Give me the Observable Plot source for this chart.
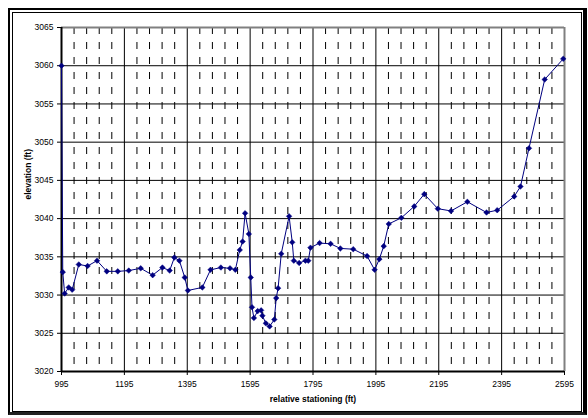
<!DOCTYPE html>
<html>
<head>
<meta charset="utf-8">
<script src="https://cdn.jsdelivr.net/npm/d3@7"></script>
<script src="https://cdn.jsdelivr.net/npm/@observablehq/plot@0.6"></script>
<style>
  html, body { margin: 0; padding: 0; background: white; }
  #wrap { position: relative; width: 588px; height: 418px; overflow: hidden; }
  #wrap svg { position: absolute; left: 0; top: 0; }
  .b { position: absolute; box-sizing: border-box; pointer-events: none; }
</style>
</head>
<body>
<div id="wrap">
  <div class="b" style="left:8px;top:8px;width:579px;height:407px;border-left:2px solid #000;border-top:2px solid #000;border-right:4px solid #000;border-bottom:3px solid #222;"></div>
  <div class="b" style="left:12px;top:12px;width:570px;height:400px;border:1px solid #000;"></div>
</div>
<script>
const stations = [995, 999, 1005, 1018, 1029, 1050, 1078, 1108, 1139, 1174,
  1209, 1247, 1285, 1316, 1339, 1354, 1370, 1387, 1397, 1443,
  1469, 1502, 1531, 1548, 1562, 1571, 1579, 1591, 1597, 1601,
  1607, 1619, 1630, 1634, 1645, 1657, 1672, 1678, 1684, 1694,
  1719, 1729, 1734, 1751, 1771, 1780, 1787, 1816, 1851, 1882,
  1923, 1967, 1991, 2006, 2020, 2036, 2076, 2117, 2149, 2192,
  2234, 2286, 2347, 2381, 2435, 2455, 2482, 2532, 2591];
const elevations = [3060, 3033.0, 3030.2, 3031.0, 3030.7, 3034.0, 3033.8, 3034.5, 3033.1, 3033.1,
  3033.2, 3033.5, 3032.6, 3033.6, 3033.2, 3034.9, 3034.5, 3032.3, 3030.6, 3031.0,
  3033.3, 3033.6, 3033.5, 3033.3, 3035.9, 3037.0, 3040.7, 3038.0, 3032.3, 3028.4,
  3027.0, 3027.9, 3028.0, 3027.3, 3026.3, 3025.9, 3026.8, 3029.6, 3030.9, 3035.4,
  3040.3, 3036.9, 3034.5, 3034.2, 3034.5, 3034.5, 3036.2, 3036.8, 3036.7, 3036.1,
  3036.0, 3035.1, 3033.3, 3034.7, 3036.4, 3039.3, 3040.1, 3041.6, 3043.2, 3041.3,
  3041.0, 3042.2, 3040.8, 3041.1, 3042.9, 3044.2, 3049.2, 3058.2, 3060.9];
const xTicks = [995, 1195, 1395, 1595, 1795, 1995, 2195, 2395, 2595];
const xMinor = [1035, 1075, 1115, 1155, 1235, 1275, 1315, 1355, 1435, 1475, 1515, 1555,
  1635, 1675, 1715, 1755, 1835, 1875, 1915, 1955, 2035, 2075, 2115, 2155,
  2235, 2275, 2315, 2355, 2435, 2475, 2515, 2555];
const yTicks = [3020, 3025, 3030, 3035, 3040, 3045, 3050, 3055, 3060, 3065];
const xTitle = "relative stationing (ft)";
const yTitle = "elevation (ft)";

const data = stations.map((s, i) => ({x: s, y: elevations[i]}));
const navy = "#000080";

const chart = Plot.plot({
  width: 588,
  height: 418,
  marginLeft: 61,
  marginRight: 24,
  marginTop: 27,
  marginBottom: 47,
  style: {fontFamily: "'Liberation Sans', Arial, sans-serif", fontSize: "8.5px", background: "transparent", color: "#000"},
  x: {domain: [995, 2595], ticks: xTicks, label: null},
  y: {domain: [3020, 3065], ticks: yTicks, label: null},
  marks: [
    Plot.ruleX(xMinor, {stroke: "#000", strokeWidth: 1, strokeDasharray: "7,8"}),
    Plot.ruleY(yTicks.slice(1, -1), {stroke: "#000", strokeWidth: 1}),
    Plot.ruleX(xTicks.slice(1, -1), {stroke: "#000", strokeWidth: 1}),
    Plot.ruleY([3065], {stroke: "#808080", strokeWidth: 2}),
    Plot.ruleX([2595], {stroke: "#808080", strokeWidth: 2}),
    Plot.ruleX([995], {stroke: "#000", strokeWidth: 2}),
    Plot.ruleY([3020], {stroke: "#000", strokeWidth: 2}),
    Plot.axisY({ticks: yTicks, tickSize: 4, tickPadding: 4, tickFormat: d => String(d), label: null}),
    Plot.axisX({ticks: xTicks, tickSize: 4, tickPadding: 5, tickFormat: d => String(d), label: null}),
    Plot.line(data, {x: "x", y: "y", stroke: navy, strokeWidth: 1}),
    Plot.dot(data, {x: "x", y: "y", symbol: "diamond2", r: 2.5, fill: navy, stroke: navy, strokeWidth: 0.5}),
    Plot.text([yTitle], {frameAnchor: "left", dx: -33, rotate: -90, fontWeight: "bold", fontSize: 8.5, fill: "#000"}),
    Plot.text([xTitle], {frameAnchor: "bottom", dy: 30, fontWeight: "bold", fontSize: 8.5, fill: "#000"})
  ]
});
const wrap = document.getElementById("wrap");
wrap.insertBefore(chart, wrap.firstChild);
</script>
</body>
</html>
